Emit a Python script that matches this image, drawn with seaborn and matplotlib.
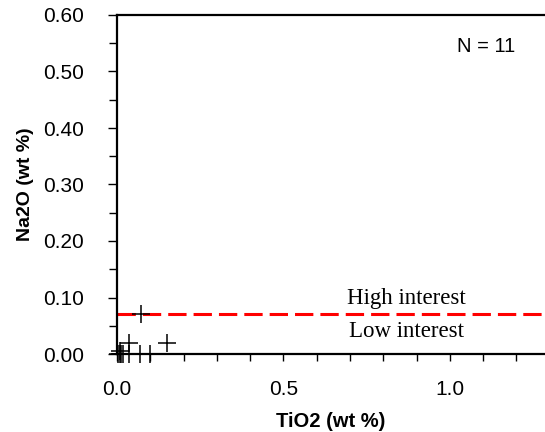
import matplotlib
matplotlib.use("Agg")
import matplotlib.pyplot as plt
import seaborn as sns
import pandas as pd
from matplotlib.ticker import MultipleLocator, FormatStrFormatter

tio2 = [0.073, 0.036, 0.150, 0.003, 0.008, 0.013, 0.018, 0.036, 0.069, 0.099, 0.010]
na2o = [0.070, 0.020, 0.020, 0.000, 0.005, 0.000, 0.000, 0.000, 0.000, 0.000, 0.000]
threshold = 0.07
n_label = "N = 11"

df = pd.DataFrame({"TiO2": tio2, "Na2O": na2o})

sns.set_style("ticks")
plt.rcParams['font.family'] = ['Liberation Sans', 'DejaVu Sans']
plt.rcParams['text.color'] = 'black'
plt.rcParams['axes.labelcolor'] = 'black'
plt.rcParams['xtick.color'] = 'black'
plt.rcParams['ytick.color'] = 'black'

fig = plt.figure(figsize=(5.45, 4.32), dpi=100)
ax = fig.add_axes([117/545, 1-354/432, 1-117/545, (354-15)/432])

ax.axhline(threshold, color="#ff0000", lw=2.2, dashes=(6, 2.3), zorder=2)

sns.scatterplot(data=df, x="TiO2", y="Na2O", marker="+", s=170, color="black",
                linewidth=1.1, ax=ax, clip_on=False, zorder=3)

ax.set_xlim(0, 1.286)
ax.set_ylim(0, 0.60)
ax.xaxis.set_major_locator(MultipleLocator(0.5))
ax.xaxis.set_minor_locator(MultipleLocator(0.1))
ax.yaxis.set_major_locator(MultipleLocator(0.1))
ax.yaxis.set_minor_locator(MultipleLocator(0.05))
ax.xaxis.set_major_formatter(FormatStrFormatter("%.1f"))
ax.yaxis.set_major_formatter(FormatStrFormatter("%.2f"))

for s in ["left", "bottom", "top"]:
    ax.spines[s].set_linewidth(1.6)
    ax.spines[s].set_color("black")
ax.spines["right"].set_visible(False)

ax.tick_params(axis="both", which="both", direction="out", color="black",
               labelcolor="black", width=1.0, labelsize=15)
ax.tick_params(axis="y", which="major", length=6.5, pad=17)
ax.tick_params(axis="y", which="minor", length=6)
ax.tick_params(axis="x", which="major", length=5, pad=14)
ax.tick_params(axis="x", which="minor", length=5)

ax.set_xlabel("TiO2 (wt %)", fontsize=14.5, fontweight="bold", labelpad=9, color="black")
ax.set_ylabel("Na2O (wt %)", fontsize=14, fontweight="bold", labelpad=7, color="black")

ax.text(0.870, 0.099, "High interest", ha="center", va="center", fontsize=16.5,
        color="black", family=["Liberation Serif", "DejaVu Serif"])
ax.text(0.870, 0.039, "Low interest", ha="center", va="center", fontsize=16.5,
        color="black", family=["Liberation Serif", "DejaVu Serif"])
ax.text(1.108, 0.544, n_label, ha="center", va="center", fontsize=14.5, color="black")

fig.savefig("out.png", dpi=100)
